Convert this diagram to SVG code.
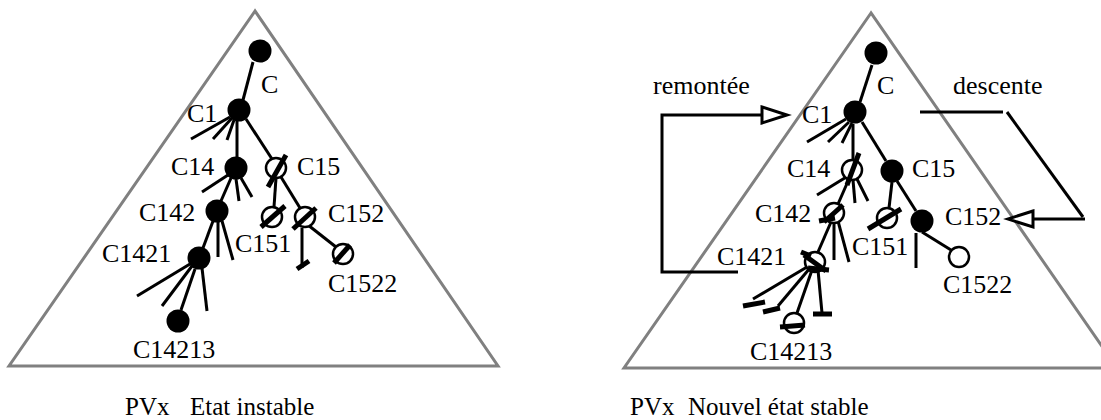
<svg xmlns="http://www.w3.org/2000/svg" width="1101" height="420" viewBox="0 0 1101 420">
<style>
.tri{fill:none;stroke:#808080;stroke-width:3;stroke-linejoin:miter}
.ln{stroke:#000;stroke-width:3;fill:none}
.th{stroke:#000;stroke-width:5;fill:none}
.full{fill:#000}
.hol{fill:#fff;stroke:#000;stroke-width:2.5}
.lab{font-family:"Liberation Serif","Times New Roman",serif;font-size:26px;fill:#000}
.cap{font-family:"Liberation Serif","Times New Roman",serif;font-size:25px;fill:#000}
.arr{fill:#fff;stroke:#000;stroke-width:3}
</style>
<g id="frames">
<polygon class="tri" points="255,11 9,366 498,366"/>
<polygon class="tri" points="871,13 624,368 1117,368"/>
</g>
<g id="connectors">
<!-- left tree -->
<line class="ln" x1="253" y1="62" x2="243" y2="100"/>
<line class="ln" x1="230" y1="117" x2="191" y2="139"/>
<line class="ln" x1="232" y1="118" x2="213" y2="139"/>
<line class="ln" x1="234" y1="120" x2="227" y2="140"/>
<line class="ln" x1="237" y1="121" x2="237" y2="158"/>
<line class="ln" x1="246" y1="119" x2="272" y2="159"/>
<line class="ln" x1="228" y1="175" x2="202" y2="192"/>
<line class="ln" x1="236" y1="179" x2="239" y2="201"/>
<line class="ln" x1="241" y1="178" x2="252" y2="197"/>
<line class="ln" x1="231" y1="178" x2="221" y2="201"/>
<line class="ln" x1="218" y1="221" x2="218" y2="257"/>
<line class="ln" x1="222" y1="221" x2="233" y2="260"/>
<line class="ln" x1="213" y1="221" x2="203" y2="248"/>
<line class="ln" x1="190" y1="264" x2="137" y2="296"/>
<line class="ln" x1="192" y1="266" x2="162" y2="306"/>
<line class="ln" x1="202" y1="268" x2="207" y2="311"/>
<line class="ln" x1="195" y1="269" x2="181" y2="310"/>
<line class="ln" x1="276" y1="178" x2="274" y2="207"/>
<line class="ln" x1="281" y1="177" x2="300" y2="208"/>
<line class="ln" x1="302" y1="228" x2="302" y2="268"/>
<line class="th" x1="297" y1="269" x2="309" y2="261"/>
<line class="ln" x1="308" y1="225" x2="336" y2="247"/>
<!-- right tree -->
<line class="ln" x1="872" y1="65" x2="860" y2="102"/>
<line class="ln" x1="846" y1="119" x2="807" y2="142"/>
<line class="ln" x1="849" y1="122" x2="828" y2="142"/>
<line class="ln" x1="852" y1="123" x2="842" y2="143"/>
<line class="ln" x1="853" y1="124" x2="853" y2="160"/>
<line class="ln" x1="862" y1="122" x2="886" y2="161"/>
<line class="ln" x1="848" y1="176" x2="817" y2="195"/>
<line class="ln" x1="853" y1="180" x2="855" y2="203"/>
<line class="ln" x1="857" y1="179" x2="868" y2="201"/>
<line class="ln" x1="849" y1="179" x2="838" y2="204"/>
<line class="ln" x1="834" y1="222" x2="834" y2="260"/>
<line class="ln" x1="838" y1="221" x2="849" y2="262"/>
<line class="ln" x1="831" y1="222" x2="818" y2="252"/>
<line class="ln" x1="807" y1="267" x2="753" y2="299"/>
<line class="th" x1="743" y1="306" x2="765" y2="302"/>
<line class="ln" x1="810" y1="268" x2="778" y2="306"/>
<line class="th" x1="763" y1="312" x2="780" y2="308"/>
<line class="ln" x1="818" y1="270" x2="822" y2="313"/>
<line class="th" x1="813" y1="314" x2="832" y2="314"/>
<line class="ln" x1="812" y1="270" x2="797" y2="313"/>
<line class="ln" x1="892" y1="182" x2="889" y2="208"/>
<line class="ln" x1="897" y1="181" x2="916" y2="211"/>
<line class="ln" x1="916" y1="233" x2="916" y2="268"/>
<line class="ln" x1="922" y1="232" x2="951" y2="250"/>
<!-- remontee -->
<polyline class="ln" points="738,272 662,272 662,115 762,115"/>
<polygon class="arr" points="762,107 787,115 762,123"/>
<!-- descente -->
<line class="ln" x1="920" y1="112" x2="1003" y2="112"/>
<line class="ln" x1="1007" y1="112" x2="1083" y2="217"/>
<line class="ln" x1="1085" y1="219" x2="1033" y2="219"/>
<polygon class="arr" points="1033,211 1008,219 1033,227"/>
</g>
<!-- left nodes -->
<g id="L_C"><circle class="full" cx="260" cy="51" r="11.5"/><text class="lab" x="261" y="93">C</text></g>
<g id="L_C1"><circle class="full" cx="239" cy="110" r="11.5"/><text class="lab" x="187" y="122">C1</text></g>
<g id="L_C14"><circle class="full" cx="236" cy="168" r="11.5"/><text class="lab" x="171" y="175">C14</text></g>
<g id="L_C142"><circle class="full" cx="217" cy="211" r="11.5"/><text class="lab" x="139" y="221">C142</text></g>
<g id="L_C1421"><circle class="full" cx="199" cy="258" r="11.5"/><text class="lab" x="102" y="262">C1421</text></g>
<g id="L_C14213"><circle class="full" cx="178" cy="321" r="11.5"/><text class="lab" x="133" y="358">C14213</text></g>
<g id="L_C15"><circle class="hol" cx="276" cy="168" r="10"/><line class="th" x1="286" y1="155" x2="268" y2="187"/><text class="lab" x="297" y="175">C15</text></g>
<g id="L_C151"><circle class="hol" cx="272" cy="217" r="10"/><line class="th" x1="285" y1="206" x2="261" y2="227"/><text class="lab" x="235" y="252">C151</text></g>
<g id="L_C152"><circle class="hol" cx="305" cy="217" r="10"/><line class="th" x1="316" y1="208" x2="293" y2="229"/><text class="lab" x="328" y="222">C152</text></g>
<g id="L_C1522"><circle class="hol" cx="343" cy="254" r="10"/><line class="th" x1="350" y1="245" x2="334" y2="263"/><text class="lab" x="328" y="292">C1522</text></g>
<!-- right nodes -->
<g id="R_C"><circle class="full" cx="876" cy="53" r="11.5"/><text class="lab" x="877" y="94">C</text></g>
<g id="R_C1"><circle class="full" cx="855" cy="112" r="11.5"/><text class="lab" x="802" y="123">C1</text></g>
<g id="R_C14"><circle class="hol" cx="852" cy="170" r="10"/><line class="th" x1="859" y1="153" x2="847" y2="185"/><text class="lab" x="787" y="177">C14</text></g>
<g id="R_C142"><circle class="hol" cx="834" cy="213" r="10"/><line class="th" x1="843" y1="205" x2="824" y2="222"/><line class="th" x1="819" y1="221" x2="835" y2="218"/><text class="lab" x="755" y="222">C142</text></g>
<g id="R_C1421"><circle class="hol" cx="815" cy="262" r="10"/><line class="th" x1="801" y1="252" x2="811" y2="256"/><line class="th" x1="804" y1="255" x2="826" y2="271"/><line class="th" x1="808" y1="268" x2="829" y2="270"/><text class="lab" x="717" y="265">C1421</text></g>
<g id="R_C14213"><circle class="hol" cx="794" cy="323" r="10"/><line class="th" x1="780" y1="327" x2="805" y2="325"/><text class="lab" x="750" y="360">C14213</text></g>
<g id="R_C15"><circle class="full" cx="892" cy="171" r="11.5"/><text class="lab" x="912" y="177">C15</text></g>
<g id="R_C151"><circle class="hol" cx="887" cy="218" r="10"/><line class="th" x1="901" y1="209" x2="868" y2="229"/><text class="lab" x="852" y="255">C151</text></g>
<g id="R_C152"><circle class="full" cx="922" cy="221" r="11.5"/><text class="lab" x="945" y="225">C152</text></g>
<g id="R_C1522"><circle class="hol" cx="959" cy="257" r="10"/><text class="lab" x="943" y="293">C1522</text></g>
<!-- annotations -->
<g id="labels">
<text class="lab" x="653" y="94">remontée</text>
<text class="lab" x="953" y="94">descente</text>
<text class="cap" y="415"><tspan x="125">PVx</tspan><tspan x="190">Etat instable</tspan></text>
<text class="cap" y="415"><tspan x="630">PVx</tspan><tspan x="688">Nouvel état stable</tspan></text>
</g>
</svg>
